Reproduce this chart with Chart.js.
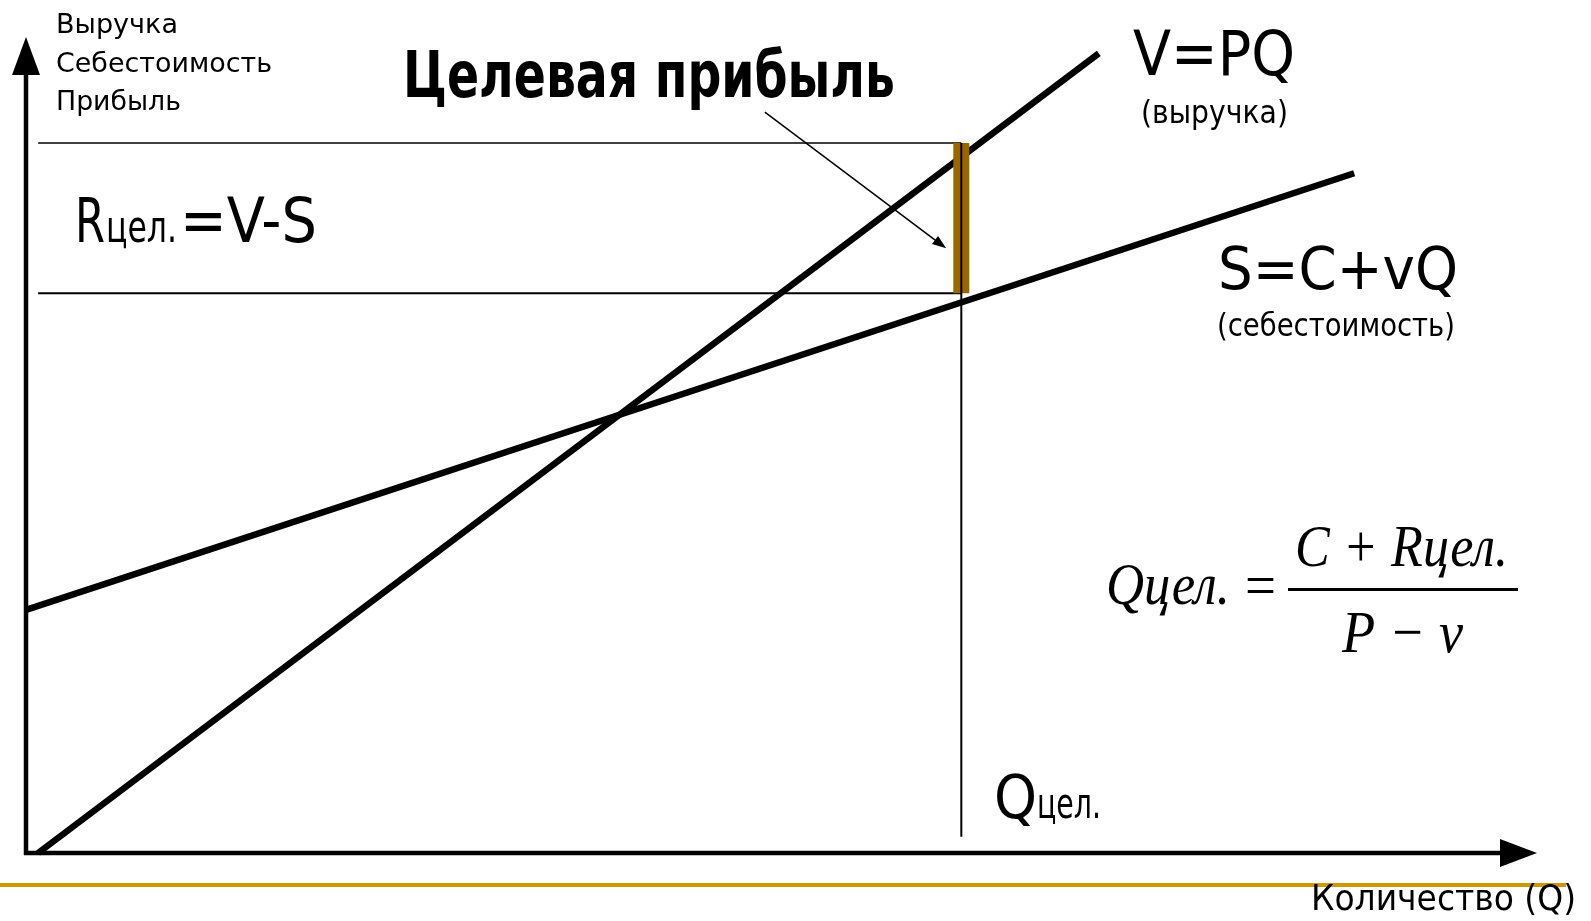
<!DOCTYPE html>
<html lang="ru">
<head>
<meta charset="utf-8">
<title>Целевая прибыль</title>
<script src="https://cdn.jsdelivr.net/npm/chart.js@4"></script>
<style>
    html, body { margin: 0; padding: 0; background: #fff; }
    #wrap { width: 1591px; height: 921px; }
</style>
</head>
<body>
<div id="wrap"><canvas id="targetChart" width="1591" height="921"></canvas></div>
<script>
// Q on the x axis, money (выручка / себестоимость) on the y axis, both 0..100
const revenueQ = [0.8, 71.0];
const revenueV = [0, 98.0];
const costQ = [0, 87.9];
const costS = [29.8, 83.3];
const targetQ = [61.9, 61.9];
const targetLine = [2.0, 87.0];
const profitBand = [68.6, 87.0];          // S and V at Q цел.
const guideQ = [0.8, 61.9];
const pointerFrom = [48.9, 90.8];
const pointerTo = [60.9, 74.1];

const toPoints = (xs, ys) => xs.map((x, i) => ({ x: x, y: ys[i] }));

const SANS = '"DejaVu Sans Condensed", "DejaVu Sans", sans-serif';
const SERIF = '"Liberation Serif", "DejaVu Serif", serif';

function fitText(ctx, str, x, y, px, width, family, weight, style) {
    ctx.save();
    ctx.font = `${style || 'normal'} ${weight || 'normal'} ${px}px ${family}`;
    const w = ctx.measureText(str).width;
    ctx.translate(x, y);
    ctx.scale(width / w, 1);
    ctx.textAlign = 'left';
    ctx.textBaseline = 'alphabetic';
    ctx.fillStyle = '#000';
    ctx.fillText(str, 0, 0);
    ctx.restore();
}

function arrowHead(ctx, x1, y1, x2, y2, len, half) {
    const a = Math.atan2(y2 - y1, x2 - x1);
    ctx.beginPath();
    ctx.moveTo(x2, y2);
    ctx.lineTo(x2 - len * Math.cos(a) + half * Math.sin(a), y2 - len * Math.sin(a) - half * Math.cos(a));
    ctx.lineTo(x2 - len * Math.cos(a) - half * Math.sin(a), y2 - len * Math.sin(a) + half * Math.cos(a));
    ctx.closePath();
    ctx.fill();
}

const axesPlugin = {
    id: 'axesPlugin',
    beforeDatasetsDraw(chart) {
        const ctx = chart.ctx;
        const a = chart.chartArea;
        const x0 = chart.scales.x.getPixelForValue(0);
        const y0 = chart.scales.y.getPixelForValue(0);
        ctx.save();
        ctx.strokeStyle = '#000';
        ctx.fillStyle = '#000';
        ctx.lineWidth = 4.5;
        ctx.beginPath();
        ctx.moveTo(x0, y0 + 2);
        ctx.lineTo(x0, a.top + 30);
        ctx.moveTo(x0 - 2, y0);
        ctx.lineTo(a.right - 30, y0);
        ctx.stroke();
        arrowHead(ctx, x0, y0, x0, a.top, 38, 14);
        arrowHead(ctx, x0, y0, a.right, y0, 37, 14);
        ctx.restore();
    },
    afterDraw(chart) {
        const ctx = chart.ctx;
        const sx = chart.scales.x, sy = chart.scales.y;

        // pointer from the title to the profit band
        const px1 = sx.getPixelForValue(pointerFrom[0]), py1 = sy.getPixelForValue(pointerFrom[1]);
        const px2 = sx.getPixelForValue(pointerTo[0]), py2 = sy.getPixelForValue(pointerTo[1]);
        ctx.save();
        ctx.strokeStyle = '#000';
        ctx.fillStyle = '#000';
        ctx.lineWidth = 1.5;
        ctx.beginPath();
        ctx.moveTo(px1, py1);
        ctx.lineTo(px2 - 8, py2 - 6);
        ctx.stroke();
        arrowHead(ctx, px1, py1, px2, py2, 14, 5);

        // gold rule at the bottom of the slide
        ctx.fillStyle = '#CC9900';
        ctx.fillRect(0, 883, 1566, 4);

        // fraction bar
        ctx.fillStyle = '#000';
        ctx.fillRect(1288, 588, 230, 3);
        ctx.restore();

        fitText(ctx, 'Выручка', 56, 33, 27, 122, SANS);
        fitText(ctx, 'Себестоимость', 56, 72, 27, 216, SANS);
        fitText(ctx, 'Прибыль', 56, 110, 27, 125, SANS);

        fitText(ctx, 'Целевая прибыль', 403, 97, 64, 492, SANS, 'bold');

        fitText(ctx, 'R', 75, 242, 62, 30, SANS);
        fitText(ctx, 'цел.', 106, 242, 44, 71, SANS);
        fitText(ctx, '=V-S', 180, 242, 62, 137, SANS);

        fitText(ctx, 'V=PQ', 1133, 75, 63, 162, SANS);
        fitText(ctx, '(выручка)', 1141, 123, 32, 147, SANS);
        fitText(ctx, 'S=C+vQ', 1218, 289, 59, 240, SANS);
        fitText(ctx, '(себестоимость)', 1217, 336, 32, 238, SANS);

        fitText(ctx, 'Q', 994, 818, 60, 43, SANS);
        fitText(ctx, 'цел.', 1037, 818, 42, 64, SANS);

        fitText(ctx, 'Количество (Q)', 1311, 910, 35, 265, SANS);

        fitText(ctx, 'Qцел.', 1106, 604, 60, 124, SERIF, 'normal', 'italic');
        fitText(ctx, '=', 1245, 606, 62, 31, SERIF);
        fitText(ctx, 'C + Rцел.', 1295, 566, 60, 213, SERIF, 'normal', 'italic');
        fitText(ctx, 'P − v', 1342, 652, 60, 121, SERIF, 'normal', 'italic');
    }
};

const lineSet = (label, data, color, width, order) => ({
    label: label,
    data: data,
    showLine: true,
    borderColor: color,
    borderWidth: width,
    borderCapStyle: 'butt',
    pointRadius: 0,
    fill: false,
    clip: false,
    order: order
});

new Chart(document.getElementById('targetChart'), {
    type: 'scatter',
    data: {
        datasets: [
            lineSet('Qцел.', toPoints(targetQ, targetLine), '#000', 2, 0),
            lineSet('Rцел.', toPoints(targetQ, profitBand), '#996600', 16, 1),
            lineSet('V=PQ', toPoints(revenueQ, revenueV), '#000', 6.5, 2),
            lineSet('S=C+vQ', toPoints(costQ, costS), '#000', 6.5, 3),
            lineSet('V цел.', toPoints(guideQ, [profitBand[1], profitBand[1]]), '#000', 1.5, 4),
            lineSet('S цел.', toPoints(guideQ, [profitBand[0], profitBand[0]]), '#000', 2, 5)
        ]
    },
    options: {
        responsive: false,
        devicePixelRatio: 1,
        animation: false,
        layout: { padding: { left: 26, right: 54, top: 37, bottom: 68 } },
        plugins: {
            legend: { display: false },
            tooltip: { enabled: false },
            title: { display: false }
        },
        scales: {
            x: { type: 'linear', min: 0, max: 100, display: false },
            y: { type: 'linear', min: 0, max: 100, display: false }
        }
    },
    plugins: [axesPlugin]
});
</script>
</body>
</html>
